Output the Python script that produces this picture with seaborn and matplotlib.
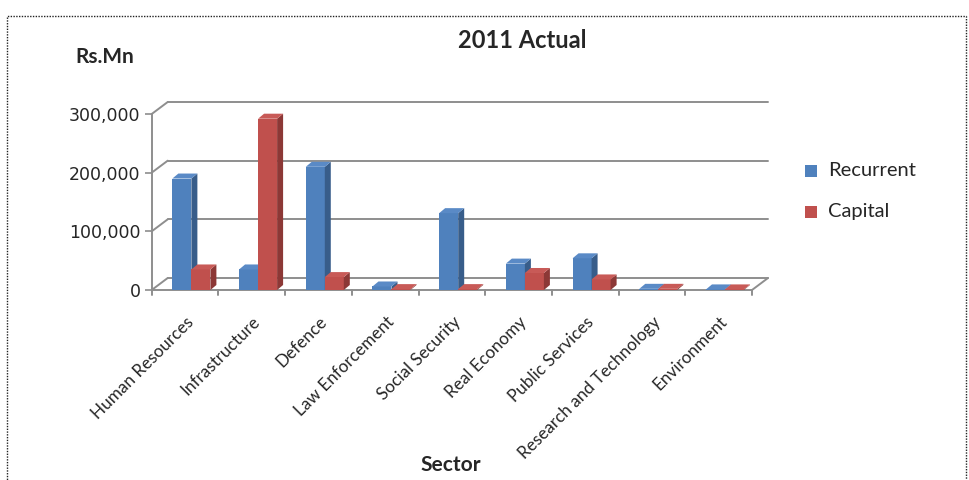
import numpy as np
import pandas as pd
import seaborn as sns
import matplotlib
matplotlib.use("Agg")
import matplotlib.pyplot as plt
from matplotlib.patches import Polygon, Rectangle
import matplotlib.transforms as mtransforms

# ---------------- data ----------------
sectors = ["Human Resources", "Infrastructure", "Defence", "Law Enforcement",
           "Social Security", "Real Economy", "Public Services",
           "Research and Technology", "Environment"]
recurrent = [190000, 35000, 210000, 6000, 131000, 45000, 54000, 2000, 1000]
capital = [35000, 292000, 22000, 1500, 1500, 29000, 18000, 2000, 1000]
series = ["Recurrent", "Capital"]
yticks = [0, 100000, 200000, 300000]

df = pd.DataFrame({
    "Sector": sectors * 2,
    "Series": [series[0]] * len(sectors) + [series[1]] * len(sectors),
    "Value": recurrent + capital,
})

front = {"Recurrent": "#4F81BD", "Capital": "#C0504D"}
side = {"Recurrent": "#385D8A", "Capital": "#8C3836"}
top = {"Recurrent": "#5A8AC6", "Capital": "#C85A57"}

sns.set_theme(style="white")
plt.rcParams["font.family"] = ["Lato", "DejaVu Sans"]

W, H = 969, 480
fig = plt.figure(figsize=(W / 100, H / 100), dpi=100)
YMAX = 325000
px_per_val = 176.0 / 300000
ax_h = YMAX * px_per_val
ax = fig.add_axes([151.7 / W, 190 / H, 600.3 / W, ax_h / H])

sns.barplot(data=df, x="Sector", y="Value", hue="Series", palette=front,
            width=0.57, dodge=True, ax=ax, legend=False, saturation=1,
            linewidth=0, errorbar=None)

L = -0.595
R = L + 9
ax.set_xlim(L, R)
ax.set_ylim(0, YMAX)
for s in ax.spines.values():
    s.set_visible(False)
ax.grid(False)

# 3D depth of bars
ddx = 6 / 66.7
ddy = 5 / px_per_val
n = len(sectors)
for i, p in enumerate(ax.patches[:2 * n]):
    ser = series[0] if i < n else series[1]
    z = 3 if i < n else 4
    p.set_zorder(z)
    x0, w, h = p.get_x(), p.get_width(), p.get_height()
    sp = Polygon([(x0 + w, 0), (x0 + w + ddx, ddy), (x0 + w + ddx, h + ddy), (x0 + w, h)],
                 closed=True, facecolor=side[ser], edgecolor="none", zorder=z)
    tp = Polygon([(x0, h), (x0 + ddx, h + ddy), (x0 + w + ddx, h + ddy), (x0 + w, h)],
                 closed=True, facecolor=top[ser], edgecolor="none", zorder=z)
    ax.add_patch(sp)
    ax.add_patch(tp)

# walls / gridlines
DX = 16 / 66.7
DY = 12 / px_per_val
gc = "#8E8E8E"
lw = 1.4
for v in yticks:
    ax.plot([L + DX, R + DX], [v + DY, v + DY], color=gc, lw=lw, zorder=1, clip_on=False)
    ax.plot([L, L + DX], [v, v + DY], color=gc, lw=lw, zorder=1, clip_on=False)
ax.plot([L, L], [0, 300000], color=gc, lw=lw, zorder=1, clip_on=False)
ax.plot([L, R], [0, 0], color=gc, lw=lw, zorder=1, clip_on=False)
ax.plot([R, R + DX], [0, DY], color=gc, lw=lw, zorder=1, clip_on=False)
tick_len = 5 / px_per_val
for k in range(n + 1):
    ax.plot([L + k, L + k], [0, -tick_len], color=gc, lw=lw, zorder=1, clip_on=False)

# y ticks
ax.set_yticks(yticks)
ax.set_yticklabels([f"{v:,}" for v in yticks], fontfamily="DejaVu Sans", fontsize=12.5)
ax.tick_params(axis="y", length=5, width=1.2, color=gc, pad=3, left=True)

# x tick labels
ax.set_xticks(range(n))
ax.set_xticklabels(sectors, rotation=45, ha="right", rotation_mode="anchor", fontsize=12.3)
ax.tick_params(axis="x", length=0, pad=17)
offset = mtransforms.ScaledTranslation(-6 / 100, 0, fig.dpi_scale_trans)
for lab in ax.get_xticklabels():
    lab.set_transform(lab.get_transform() + offset)
ax.set_xlabel("")
ax.set_ylabel("")

# texts
fig.text(522 / W, 1 - 40 / H, "2011 Actual", ha="center", va="center",
         fontsize=17, fontweight="bold")
fig.text(105 / W, 1 - 57 / H, "Rs.Mn", ha="center", va="center",
         fontsize=15, fontweight="bold")
fig.text(451 / W, 1 - 465 / H, "Sector", ha="center", va="center",
         fontsize=15, fontweight="bold")

# legend
for lab, yy in zip(series, [171, 212]):
    fig.patches.append(Rectangle(((805) / W, 1 - (yy + 6) / H), 12 / W, 12 / H,
                                 transform=fig.transFigure, facecolor=front[lab],
                                 edgecolor="none"))
    fig.text(828 / W, 1 - yy / H, lab, ha="left", va="center", fontsize=14.5)

# dotted border
fig.patches.append(Rectangle((7 / W, -0.05), (966 - 7) / W, 1.05 - 16 / H,
                             transform=fig.transFigure, fill=False,
                             edgecolor="#222222", linestyle=(0, (1, 1)), lw=1.0))

fig.savefig("out.png", dpi=100)
